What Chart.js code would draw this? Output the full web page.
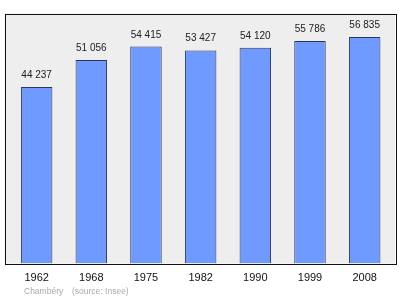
<!DOCTYPE html>
<html>
<head>
<meta charset="utf-8">
<script src="https://cdn.jsdelivr.net/npm/chart.js@4/dist/chart.umd.min.js"></script>
<style>
  html, body { margin: 0; padding: 0; background: #fff; }
  #wrap { position: relative; width: 400px; height: 299px; }
</style>
</head>
<body>
<div id="wrap"><canvas id="c" width="400" height="299"></canvas></div>
<script>
// Population of Chambéry by census year
const years = ['1962', '1968', '1975', '1982', '1990', '1999', '2008'];
const population = [44237, 51056, 54415, 53427, 54120, 55786, 56835];
const sourceNote = ['Chambéry', '(source: Insee)'];

const FONT = '"Liberation Sans", Arial, sans-serif';
const fmtPop = (v) => String(v).replace(/\B(?=(\d{3})+(?!\d))/g, ' ');

// grey frame behind the bars, a little wider than the chart area
const framePlugin = {
  id: 'frame',
  beforeDatasetsDraw(chart) {
    const { ctx, chartArea: a } = chart;
    ctx.save();
    ctx.fillStyle = '#eeeeee';
    ctx.fillRect(a.left - 4.8, a.top, a.right - a.left + 7.8, a.bottom - a.top);
    ctx.restore();
  },
  afterDatasetsDraw(chart) {
    const { ctx, chartArea: a } = chart;
    ctx.save();
    ctx.strokeStyle = '#111';
    ctx.lineWidth = 1;
    ctx.strokeRect(Math.round(a.left - 4.8) + 0.5, Math.round(a.top) + 0.5,
      Math.round(a.right - a.left + 7.8), Math.round(a.bottom - a.top));
    ctx.restore();
  },
};

// values above bars, year labels under the frame, source note
const labelPlugin = {
  id: 'valueLabels',
  afterDraw(chart) {
    const { ctx, chartArea: a } = chart;
    const xScale = chart.scales.x;
    const meta = chart.getDatasetMeta(0);
    ctx.save();
    ctx.textAlign = 'center';
    ctx.textBaseline = 'alphabetic';

    ctx.font = '10px ' + FONT;
    ctx.fillStyle = '#222';
    meta.data.forEach((bar, i) => {
      ctx.fillText(fmtPop(population[i]), bar.x, bar.y - 9);
    });

    ctx.font = '11px ' + FONT;
    ctx.fillStyle = '#111';
    years.forEach((y, i) => {
      ctx.fillText(y, xScale.getPixelForValue(i), a.bottom + 17.5);
    });

    ctx.font = '8.5px ' + FONT;
    ctx.fillStyle = '#aaaaaa';
    ctx.textAlign = 'left';
    ctx.fillText(sourceNote[0], 24, 294);
    ctx.fillText(sourceNote[1], 72, 294);
    ctx.restore();
  },
};

new Chart(document.getElementById('c'), {
  type: 'bar',
  data: {
    labels: years,
    datasets: [{
      data: population,
      backgroundColor: '#6f9aff',
      borderColor: '#2c3552',
      borderWidth: 1,
      borderSkipped: 'bottom',
      barPercentage: 0.576,
      categoryPercentage: 1,
    }],
  },
  options: {
    responsive: false,
    animation: false,
    layout: { padding: { left: 9.3, right: 8, top: 13.5, bottom: 35.5 } },
    plugins: { legend: { display: false }, tooltip: { enabled: false } },
    scales: {
      x: { display: false },
      y: { display: false, min: 0, max: 62700 },
    },
  },
  plugins: [framePlugin, labelPlugin],
});
</script>
</body>
</html>
